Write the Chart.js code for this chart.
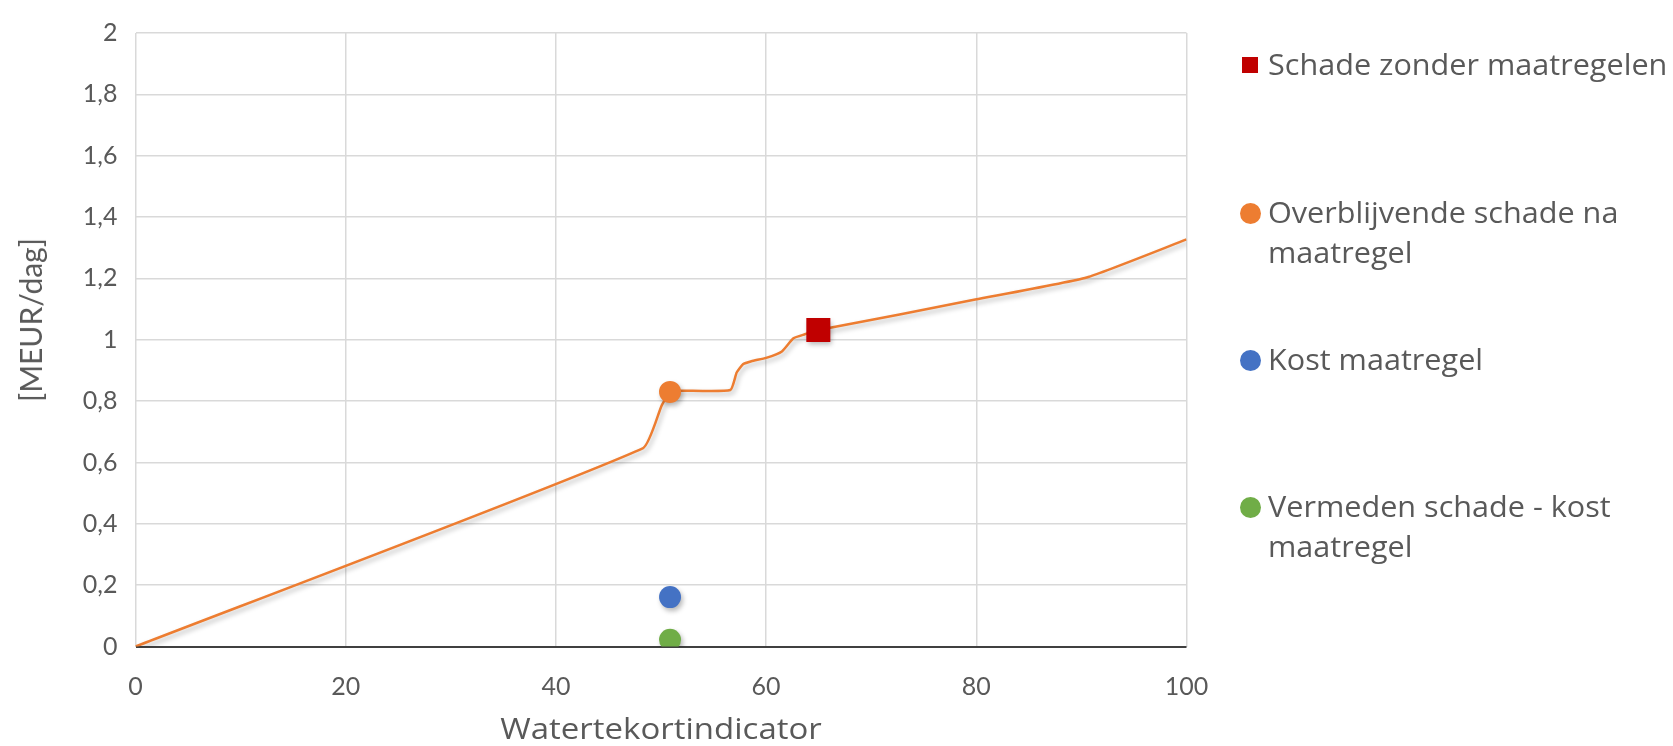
<!DOCTYPE html>
<html>
<head>
<meta charset="utf-8">
<script src="https://cdn.jsdelivr.net/npm/chart.js@4.4.0/dist/chart.umd.min.js"></script>
<style>
  html, body { margin: 0; padding: 0; background: #ffffff; }
  #wrap { position: relative; width: 1673px; height: 746px; overflow: hidden; }
  canvas { position: absolute; left: 0; top: 0; }
  .ttl { position: absolute; color: #595959; white-space: nowrap; }
  #xTitle { left: 661px; top: 727px; font-family: "Open Sans", Lato, sans-serif; font-size: 30px; transform: translate(-50%, -50%) scaleX(1.1); }
  #yTitle { left: 30px; top: 320px; font-family: Lato, "Open Sans", sans-serif; font-size: 30px; transform: translate(-50%, -50%) rotate(-90deg); }
  .leg { position: absolute; left: 1268px; color: #595959; font-family: "Open Sans", Lato, sans-serif; font-size: 30px; line-height: 40px; white-space: nowrap; transform-origin: 0 50%; transform: scaleX(1.02); }
  .mk { position: absolute; }
</style>
</head>
<body>
<div id="wrap">
  <canvas id="c" width="1673" height="746"></canvas>
  <div id="xTitle" class="ttl"></div>
  <div id="yTitle" class="ttl"></div>
  <div id="legend"></div>
</div>
<script>
// ---- data ----
const curveX = [0, 48.3, 50.07, 50.86, 51.8, 56.6, 57.2, 57.8, 58.6, 60.0, 61.5, 62.6, 63.7, 64.97, 72.7, 79.9, 90.5, 100];
const curveY = [0, 0.647, 0.786, 0.83, 0.834, 0.836, 0.893, 0.92, 0.93, 0.941, 0.962, 1.005, 1.018, 1.032, 1.082, 1.131, 1.203, 1.327];

const seriesNames = ["Schade zonder maatregelen", "Overblijvende schade na maatregel", "Kost maatregel", "Vermeden schade - kost maatregel"];
const seriesX = [64.97, 50.86, 50.86, 50.86];
const seriesY = [1.032, 0.83, 0.161, 0.022];
const seriesColors = ["#C00000", "#ED7D31", "#4472C4", "#70AD47"];
const legendLines = [["Schade zonder maatregelen"], ["Overblijvende schade na", "maatregel"], ["Kost maatregel"], ["Vermeden schade - kost", "maatregel"]];

const xTicks = [0, 20, 40, 60, 80, 100];
const yTicks = [0, 0.2, 0.4, 0.6, 0.8, 1, 1.2, 1.4, 1.6, 1.8, 2];
const xTitle = "Watertekortindicator";
const yTitle = "[MEUR/dag]";

// ---- build ----
document.getElementById('xTitle').textContent = xTitle;
document.getElementById('yTitle').textContent = yTitle;

const legendTop = [65, 213, 360, 507];
const legend = document.getElementById('legend');
legendLines.forEach((lines, i) => {
  const d = document.createElement('div');
  d.className = 'leg';
  d.style.top = (legendTop[i] - 21) + 'px';
  d.innerHTML = lines.join('<br>');
  legend.appendChild(d);
  const m = document.createElement('div');
  m.className = 'mk';
  if (i === 0) {
    m.style.left = '1242px'; m.style.top = (legendTop[i] - 8) + 'px';
    m.style.width = '16px'; m.style.height = '16px';
  } else {
    m.style.left = '1240px'; m.style.top = (legendTop[i] - 10) + 'px';
    m.style.width = '21px'; m.style.height = '21px'; m.style.borderRadius = '50%';
  }
  m.style.background = seriesColors[i];
  legend.appendChild(m);
});

const datasets = [];
datasets.push({
  label: 'curve',
  data: curveX.map((x, i) => ({ x: x, y: curveY[i] })),
  showLine: true,
  borderColor: '#ED7D31',
  borderWidth: 2.5,
  pointRadius: 0,
  tension: 0.15,
  fill: false,
  order: 10
});
seriesNames.forEach((n, i) => {
  datasets.push({
    label: n,
    data: [{ x: seriesX[i], y: seriesY[i] }],
    showLine: false,
    pointStyle: i === 0 ? 'rect' : 'circle',
    pointRadius: i === 0 ? 17 : 11,
    backgroundColor: seriesColors[i],
    borderColor: seriesColors[i],
    borderWidth: 0,
    order: i
  });
});

const shadowPlugin = {
  id: 'shadow',
  beforeDatasetDraw(chart, args) {
    const ctx = chart.ctx;
    ctx.save();
    ctx.shadowColor = 'rgba(0,0,0,0.28)';
    ctx.shadowBlur = 5;
    ctx.shadowOffsetX = 2;
    ctx.shadowOffsetY = 3;
  },
  afterDatasetDraw(chart) { chart.ctx.restore(); }
};

const tickFont = { family: 'Lato', size: 25 };

new Chart(document.getElementById('c'), {
  type: 'scatter',
  data: { datasets: datasets },
  plugins: [shadowPlugin],
  options: {
    responsive: false,
    animation: false,
    layout: { padding: { left: 0, right: 486.5, top: 23.5, bottom: 0 } },
    plugins: { legend: { display: false }, tooltip: { enabled: false } },
    scales: {
      x: {
        type: 'linear', min: 0, max: 100,
        afterBuildTicks: s => { s.ticks = xTicks.map(v => ({ value: v })); },
        afterFit: s => { s.height = 99.5; },
        border: { display: false },
        grid: { color: '#d9d9d9', lineWidth: 1.5, drawTicks: false },
        ticks: { font: tickFont, color: '#595959', padding: 25, maxRotation: 0 }
      },
      y: {
        type: 'linear', min: 0, max: 2,
        afterBuildTicks: s => { s.ticks = yTicks.map(v => ({ value: v })); },
        afterFit: s => { s.width = 135.5; },
        border: { display: false },
        grid: {
          color: c => c.tick && c.tick.value === 0 ? '#404040' : '#d9d9d9',
          lineWidth: c => c.tick && c.tick.value === 0 ? 2 : 1.5,
          drawTicks: false
        },
        ticks: {
          font: tickFont, color: '#595959', padding: 18,
          callback: v => String(v).replace('.', ',')
        }
      }
    }
  }
});
</script>
</body>
</html>
